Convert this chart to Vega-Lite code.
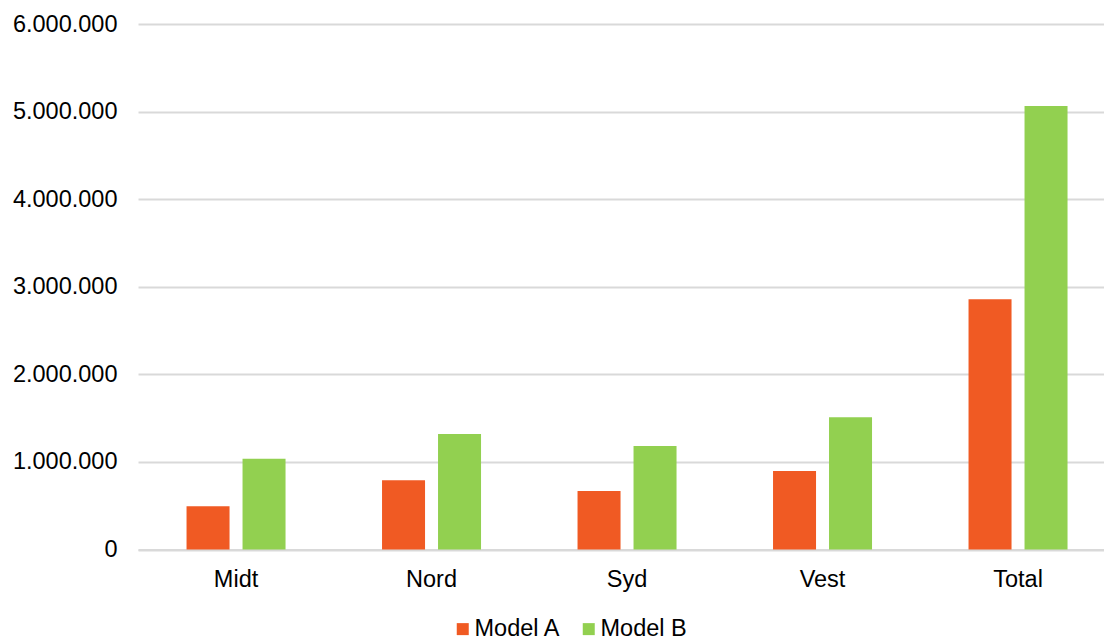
{
  "$schema": "https://vega.github.io/schema/vega-lite/v6.json",
  "autosize": {"type": "none"},
  "padding": {"left": 138, "top": 24, "right": 0, "bottom": 89.5},
  "width": 966,
  "height": 525.5,
  "background": "white",
  "config": {
    "locale": {"number": {"decimal": ",", "thousands": ".", "grouping": [3], "currency": ["", ""]}},
    "font": "Liberation Sans",
    "view": {"stroke": null}
  },
  "data": {
    "values": [
      {"region": "Midt", "model": "Model A", "value": 493000},
      {"region": "Midt", "model": "Model B", "value": 1037000},
      {"region": "Nord", "model": "Model A", "value": 790000},
      {"region": "Nord", "model": "Model B", "value": 1318000},
      {"region": "Syd", "model": "Model A", "value": 668000},
      {"region": "Syd", "model": "Model B", "value": 1182000},
      {"region": "Vest", "model": "Model A", "value": 896000},
      {"region": "Vest", "model": "Model B", "value": 1509000},
      {"region": "Total", "model": "Model A", "value": 2856000},
      {"region": "Total", "model": "Model B", "value": 5063000}
    ]
  },
  "mark": {"type": "bar"},
  "encoding": {
    "x": {
      "field": "region",
      "type": "nominal",
      "sort": ["Midt", "Nord", "Syd", "Vest", "Total"],
      "scale": {"paddingInner": 0.4936, "paddingOuter": 0.2174, "align": 0.571},
      "axis": {
        "title": null,
        "labelAngle": 0,
        "ticks": false,
        "domain": true,
        "domainColor": "#d9d9d9",
        "domainWidth": 2,
        "labelFontSize": 23.5,
        "labelColor": "#000000",
        "labelPadding": 18
      }
    },
    "xOffset": {
      "field": "model",
      "type": "nominal",
      "scale": {"paddingInner": 0.232, "paddingOuter": 0}
    },
    "y": {
      "field": "value",
      "type": "quantitative",
      "scale": {"domain": [0, 6000000], "nice": false},
      "axis": {
        "title": null,
        "format": ",d",
        "values": [0, 1000000, 2000000, 3000000, 4000000, 5000000, 6000000],
        "domain": false,
        "ticks": false,
        "grid": true,
        "gridColor": "#d9d9d9",
        "gridWidth": 2,
        "labelFontSize": 23.5,
        "labelColor": "#000000",
        "labelPadding": 21
      }
    },
    "color": {
      "field": "model",
      "type": "nominal",
      "scale": {"domain": ["Model A", "Model B"], "range": ["#F05A23", "#92D050"]},
      "legend": {
        "title": null,
        "orient": "none",
        "direction": "horizontal",
        "legendX": 313,
        "legendY": 593,
        "padding": 0,
        "symbolType": "square",
        "symbolSize": 144,
        "symbolStrokeWidth": 0,
        "labelFontSize": 23.5,
        "labelColor": "#000000",
        "labelOffset": 0,
        "columnPadding": 16
      }
    }
  }
}
